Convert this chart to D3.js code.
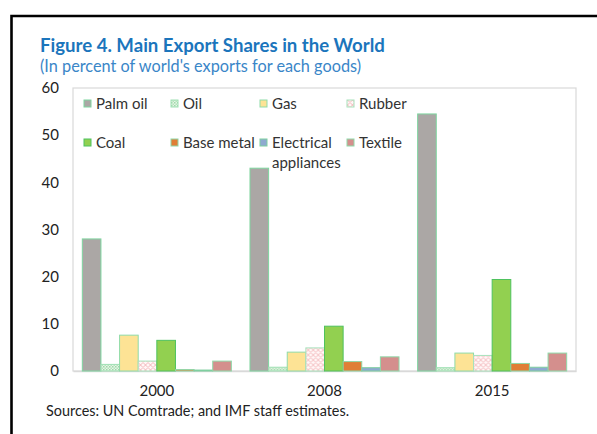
<!DOCTYPE html>
<html>
<head>
<meta charset="utf-8">
<script src="https://cdn.jsdelivr.net/npm/d3@7"></script>
<style>
  html, body { margin: 0; padding: 0; background: #fff; }
  svg { display: block; }
</style>
</head>
<body>
<svg id="chart" width="597" height="434"></svg>
<script>
// Export share data (percent of world's exports for each good)
const years = ["2000", "2008", "2015"];
const goods = ["Palm oil", "Oil", "Gas", "Rubber", "Coal", "Base metal", "Electrical appliances", "Textile"];
const palmOil    = [28.0, 43.0, 54.5];
const oil        = [1.4, 0.8, 0.7];
const gas        = [7.6, 4.0, 3.8];
const rubber     = [2.1, 4.9, 3.3];
const coal       = [6.5, 9.5, 19.4];
const baseMetal  = [0.3, 2.0, 1.6];
const electrical = [0.2, 0.7, 0.8];
const textile    = [2.1, 3.0, 3.8];
const yTicks = [0, 10, 20, 30, 40, 50, 60];

const seriesValues = [palmOil, oil, gas, rubber, coal, baseMetal, electrical, textile];

const fills = ["#aba7a5", "url(#pat-oil)", "#fde395", "url(#pat-rubber)", "#92d050", "#e07e36", "#8eaad0", "#d48f8d"];
const strokes = ["#7fd6a0", "#9fe0b4", "#8fdba9", "#a8e2bc", "#4fc25e", "#8fd6a5", "#7fcfa0", "#8fd9a9"];

const FONT = "Lato, 'Open Sans', sans-serif";

const svg = d3.select("#chart");
const defs = svg.append("defs");

// fine green dot texture
const pOil = defs.append("pattern").attr("id", "pat-oil")
  .attr("patternUnits", "userSpaceOnUse").attr("width", 3).attr("height", 3);
pOil.append("rect").attr("width", 3).attr("height", 3).attr("fill", "#e4f5e6");
pOil.append("rect").attr("width", 1.5).attr("height", 1.5).attr("fill", "#9fd8a8");
pOil.append("rect").attr("x", 1.5).attr("y", 1.5).attr("width", 1.5).attr("height", 1.5).attr("fill", "#b6e2bb");

// pink lattice texture
const pRub = defs.append("pattern").attr("id", "pat-rubber")
  .attr("patternUnits", "userSpaceOnUse").attr("width", 5).attr("height", 5);
pRub.append("rect").attr("width", 5).attr("height", 5).attr("fill", "#fff7f7");
pRub.append("path").attr("d", "M0,2.5 L2.5,0 L5,2.5 L2.5,5 Z")
  .attr("fill", "none").attr("stroke", "#f0a8ac").attr("stroke-width", 0.8);

// frame lines
svg.append("path")
  .attr("d", "M11.5,434 L11.5,16 L597,16")
  .attr("fill", "none").attr("stroke", "#000").attr("stroke-width", 2.6);

// titles
svg.append("text")
  .attr("x", 40).attr("y", 52)
  .attr("font-family", FONT)
  .attr("font-weight", "bold").attr("font-size", 18.6)
  .attr("fill", "#1b75bc")
  .text("Figure 4. Main Export Shares in the World");
svg.append("text")
  .attr("x", 40).attr("y", 72)
  .attr("font-family", FONT)
  .attr("font-size", 16.3)
  .attr("fill", "#3a86c8")
  .text("(In percent of world's exports for each goods)");

// plot area
const plotLeft = 73, plotRight = 576, plotTop = 88, plotBottom = 371;

const x0 = d3.scaleBand().domain(years).range([plotLeft, plotRight]).paddingInner(0).paddingOuter(0);
const x1 = d3.scaleBand().domain(goods).range([0, x0.bandwidth()]).paddingOuter(0.5).paddingInner(0);
const y = d3.scaleLinear().domain([0, 60]).range([plotBottom, plotTop]);

svg.append("rect")
  .attr("x", plotLeft).attr("y", plotTop)
  .attr("width", plotRight - plotLeft).attr("height", plotBottom - plotTop)
  .attr("fill", "none").attr("stroke", "#d9d9d9").attr("stroke-width", 1.2);

// y axis labels
const yAxis = d3.axisLeft(y).tickValues(yTicks).tickSize(0).tickPadding(14);
const gy = svg.append("g").attr("transform", `translate(${plotLeft},0)`).call(yAxis);
gy.select(".domain").remove();
gy.selectAll("text")
  .attr("font-family", FONT)
  .attr("font-size", 15).attr("fill", "#222");

// x axis labels
const xAxis = d3.axisBottom(x0).tickSize(0).tickPadding(14);
const gx = svg.append("g").attr("transform", `translate(0,${plotBottom})`).call(xAxis);
gx.select(".domain").attr("stroke", "#d9d9d9").attr("stroke-width", 1.5);
gx.selectAll("text")
  .attr("font-family", FONT)
  .attr("font-size", 15).attr("fill", "#222");

// bars
const groups = svg.append("g").selectAll("g")
  .data(years)
  .join("g")
  .attr("transform", d => `translate(${x0(d)},0)`);

groups.selectAll("rect")
  .data((yr, yi) => goods.map((g, gi) => ({ good: g, gi, value: seriesValues[gi][yi] })))
  .join("rect")
  .attr("x", d => x1(d.good))
  .attr("width", x1.bandwidth())
  .attr("y", d => y(d.value))
  .attr("height", d => y(0) - y(d.value))
  .attr("fill", d => fills[d.gi])
  .attr("stroke", d => strokes[d.gi])
  .attr("stroke-width", 1);

// legend
const legendPos = [
  [84, 104], [171, 104], [260, 104], [347, 104],
  [84, 143], [171, 143], [260, 143], [347, 143]
];
const legend = svg.append("g")
  .attr("font-family", FONT)
  .attr("font-size", 15).attr("fill", "#333");

goods.forEach((g, i) => {
  const [lx, ly] = legendPos[i];
  legend.append("rect")
    .attr("x", lx).attr("y", ly - 4)
    .attr("width", 7).attr("height", 7)
    .attr("fill", fills[i]).attr("stroke", strokes[i]).attr("stroke-width", 1);
  const t = legend.append("text").attr("x", lx + 12).attr("y", ly + 5);
  if (g === "Electrical appliances") {
    t.append("tspan").text("Electrical");
    t.append("tspan").attr("x", lx + 12).attr("dy", 19.5).text("appliances");
  } else {
    t.text(g);
  }
});

// source note
svg.append("text")
  .attr("x", 46).attr("y", 416)
  .attr("font-family", FONT)
  .attr("font-size", 14.4).attr("fill", "#222")
  .text("Sources: UN Comtrade; and IMF staff estimates.");
</script>
</body>
</html>
